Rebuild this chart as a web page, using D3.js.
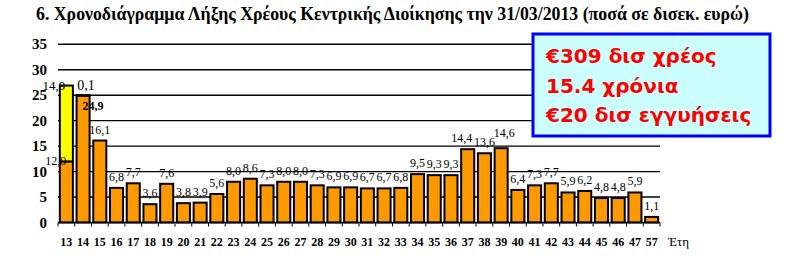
<!DOCTYPE html>
<html>
<head>
<meta charset="utf-8">
<title>Χρονοδιάγραμμα Λήξης Χρέους</title>
<style>
  body { margin: 0; background: #fff; }
  svg text { font-family: "Liberation Serif", "Times New Roman", serif; }
</style>
</head>
<body>
<svg id="chart" width="797" height="261"></svg>
<script src="https://d3js.org/d3.v7.min.js"></script>
<script>
// years of maturity
var years = ["13","14","15","16","17","18","19","20","21","22","23","24","25","26","27","28","29","30",
             "31","32","33","34","35","36","37","38","39","40","41","42","43","44","45","46","47","57"];
// main amounts (orange)
var amounts = [12.0,24.9,16.1,6.8,7.7,3.6,7.6,3.8,3.9,5.6,8.0,8.6,7.3,8.0,8.0,7.3,6.9,6.9,
               6.7,6.7,6.8,9.5,9.3,9.3,14.4,13.6,14.6,6.4,7.3,7.7,5.9,6.2,4.8,4.8,5.9,1.1];
// extra amounts stacked on top (yellow)
var extra = [14.9,0.1,0,0,0,0,0,0,0,0,0,0,0,0,0,0,0,0,
             0,0,0,0,0,0,0,0,0,0,0,0,0,0,0,0,0,0];
var yTicks = [0,5,10,15,20,25,30,35];
var boxLines = ["€309 δισ χρέος", "15.4 χρόνια", "€20 δισ εγγυήσεις"];

var svg = d3.select("#chart");

var x = d3.scaleBand().domain(years).range([58, 660]).paddingInner(0.22).paddingOuter(0.11);
var y = d3.scaleLinear().domain([0, 35]).range([222.5, 44.3]);

// title
svg.append("text")
    .attr("x", 36).attr("y", 20)
    .style("font-size", "17.8px").style("font-weight", "bold")
    .text("6. Χρονοδιάγραμμα Λήξης Χρέους Κεντρικής Διοίκησης την 31/03/2013 (ποσά σε δισεκ. ευρώ)");

// grid lines
svg.append("g").selectAll("line")
    .data(yTicks.slice(1))
    .enter().append("line")
    .attr("x1", 58).attr("x2", 660)
    .attr("y1", function(d) { return y(d); })
    .attr("y2", function(d) { return y(d); })
    .attr("stroke", "#000").attr("stroke-width", 1.4);

// y tick labels
svg.append("g").selectAll("text")
    .data(yTicks)
    .enter().append("text")
    .attr("x", 47).attr("y", function(d) { return y(d) + 5; })
    .attr("text-anchor", "end")
    .style("font-size", "15px").style("font-weight", "bold")
    .text(function(d) { return d; });

// bars
var bars = svg.append("g");
years.forEach(function(yr, i) {
    bars.append("rect")
        .attr("x", x(yr)).attr("width", x.bandwidth())
        .attr("y", y(amounts[i])).attr("height", y(0) - y(amounts[i]))
        .attr("fill", "#ff9900").attr("stroke", "#000").attr("stroke-width", 2);
    if (extra[i] > 0) {
        bars.append("rect")
            .attr("x", x(yr)).attr("width", x.bandwidth())
            .attr("y", y(amounts[i] + extra[i])).attr("height", y(amounts[i]) - y(amounts[i] + extra[i]))
            .attr("fill", "#ffff00").attr("stroke", "#000").attr("stroke-width", 2);
    }
});

// x axis
var xAxis = svg.append("g");
xAxis.append("line")
    .attr("x1", 58).attr("x2", 660).attr("y1", y(0)).attr("y2", y(0))
    .attr("stroke", "#000").attr("stroke-width", 1.4);
var bounds = years.map(function(d) { return x(d) - x.step() * x.paddingInner() / 2; });
bounds.push(660);
bounds[0] = 58;
xAxis.selectAll("line.tick")
    .data(bounds)
    .enter().append("line").attr("class", "tick")
    .attr("x1", function(d) { return d; }).attr("x2", function(d) { return d; })
    .attr("y1", y(0)).attr("y2", y(0) + 4)
    .attr("stroke", "#000").attr("stroke-width", 1);
xAxis.selectAll("text")
    .data(years)
    .enter().append("text")
    .attr("x", function(d) { return x(d) + x.bandwidth() / 2; })
    .attr("y", 246)
    .attr("text-anchor", "middle")
    .style("font-size", "12px").style("font-weight", "bold")
    .text(function(d) { return d; });
svg.append("text")
    .attr("x", 668).attr("y", 246)
    .style("font-size", "13px")
    .text("Έτη");

// value labels (small nudges where labels crowd, as in the original)
var nudge = { "37": [-6, 0], "39": [3, -4] };
function fmt(v) { return v.toFixed(1).replace(".", ","); }
var labels = svg.append("g").style("font-size", "12px");
years.forEach(function(yr, i) {
    var cx = x(yr) + x.bandwidth() / 2;
    var n = nudge[yr] || [0, 0];
    if (extra[i] > 0 && i === 0) {
        labels.append("text").attr("x", cx - 1).attr("y", y(amounts[i] + extra[i]) + 4)
            .attr("text-anchor", "end").style("font-size", "13px").text(fmt(extra[i]));
        labels.append("text").attr("x", cx).attr("y", y(amounts[i]) + 4)
            .attr("text-anchor", "end").text(fmt(amounts[i]));
    } else if (extra[i] > 0) {
        labels.append("text").attr("x", cx + 3).attr("y", y(amounts[i] + extra[i]) - 5)
            .attr("text-anchor", "middle").style("font-size", "14px").text(fmt(extra[i]));
        labels.append("text").attr("x", cx + 10).attr("y", y(amounts[i]) + 14)
            .attr("text-anchor", "middle").style("font-weight", "bold").text(fmt(amounts[i]));
    } else {
        labels.append("text").attr("x", cx + n[0]).attr("y", y(amounts[i]) - 7 + n[1])
            .attr("text-anchor", "middle").text(fmt(amounts[i]));
    }
});

// summary box
svg.append("rect")
    .attr("x", 533).attr("y", 34).attr("width", 237).attr("height", 102)
    .attr("fill", "#ccffff").attr("stroke", "#0000ff").attr("stroke-width", 3);
svg.append("g").selectAll("text")
    .data(boxLines)
    .enter().append("text")
    .attr("x", 546).attr("y", function(d, i) { return 63 + i * 29.5; })
    .style("font-family", "\"DejaVu Sans\", Verdana, sans-serif")
    .style("font-size", "20px").style("font-weight", "bold").attr("fill", "#ff0000")
    .text(function(d) { return d; });
</script>
</body>
</html>
